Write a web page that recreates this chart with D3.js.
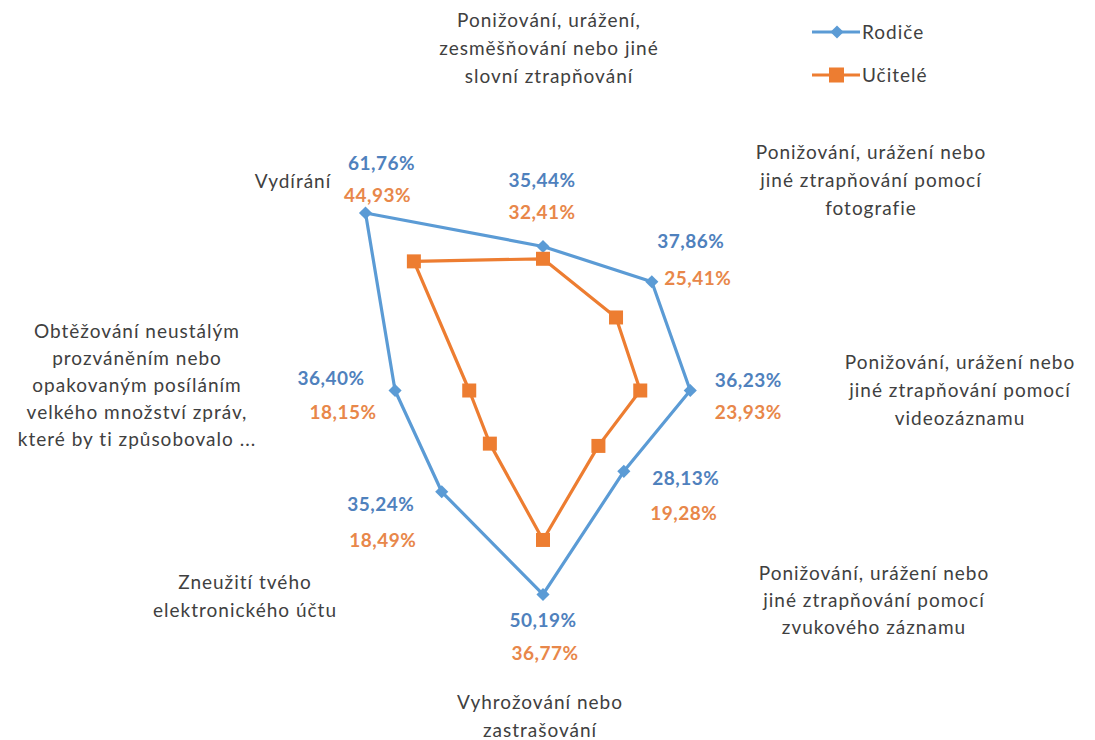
<!DOCTYPE html>
<html>
<head>
<meta charset="utf-8">
<script src="https://cdn.jsdelivr.net/npm/d3@7"></script>
<style>
body{margin:0;background:#fff;}
svg{display:block;font-family:Lato,"Open Sans",sans-serif;}
</style>
</head>
<body>
<svg width="1095" height="740"></svg>
<script>
// data
var categories = [
  ["Ponižování, urážení,","zesměšňování nebo jiné","slovní ztrapňování"],
  ["Ponižování, urážení nebo","jiné ztrapňování  pomocí","fotografie"],
  ["Ponižování, urážení nebo","jiné ztrapňování  pomocí","videozáznamu"],
  ["Ponižování, urážení nebo","jiné ztrapňování  pomocí","zvukového záznamu"],
  ["Vyhrožování nebo","zastrašování"],
  ["Zneužití tvého","elektronického účtu"],
  ["Obtěžování neustálým","prozváněním nebo","opakovaným posíláním","velkého množství zpráv,","které by ti způsobovalo ..."],
  ["Vydírání"]
];
var rodice = [35.44, 37.86, 36.23, 28.13, 50.19, 35.24, 36.40, 61.76];
var ucitele = [32.41, 25.41, 23.93, 19.28, 36.77, 18.49, 18.15, 44.93];
var seriesNames = ["Rodiče", "Učitelé"];

// layout
var cx = 543, cy = 390.5;
var blue = "#5B9BD5", orange = "#ED7D31";
var blueText = "#4F81BD", orangeText = "#E8874A";
// category label anchor (center x, first line center y) and line spacing
var catPos = [[549,20],[871,152],[960,362],[874,573],[540,702],[245,582],[137,331],[293,181]];
var lineH = [28,28,28,27,28,28,27,0];
// value label offsets from the Rodiče point
var blueOff = [[-1,-66],[39,-40],[58,-10],[62,7],[0,26],[-61,13],[-64,-12],[16,-50]];
var orangeOff = [[-1,-34],[46,-3],[58,22],[60,42],[2,59],[-59,49],[-52,22],[12,-18]];

var svg = d3.select("svg");
var r = d3.scaleLinear().domain([0,70]).range([0,284.5]);
var angle = d3.scaleLinear().domain([0, categories.length]).range([0, 2*Math.PI]);

function pt(v,i){
  var a = angle(i);
  return [cx + r(v)*Math.sin(a), cy - r(v)*Math.cos(a)];
}
var fmt = function(v){ return v.toFixed(2).replace(".", ",") + "%"; };

var line = d3.line().curve(d3.curveLinearClosed);

// series lines
svg.append("path")
  .attr("d", line(rodice.map(pt)))
  .attr("fill","none").attr("stroke",blue).attr("stroke-width",3.2).attr("stroke-linejoin","round");
svg.append("path")
  .attr("d", line(ucitele.map(pt)))
  .attr("fill","none").attr("stroke",orange).attr("stroke-width",3.2).attr("stroke-linejoin","round");

// markers
var diamond = d3.symbol().type(d3.symbolDiamond2).size(110);
svg.selectAll(".mr").data(rodice).enter().append("path")
  .attr("d", diamond)
  .attr("transform", function(d,i){ var p = pt(d,i); return "translate("+p[0]+","+p[1]+")"; })
  .attr("fill", blue);
svg.selectAll(".mu").data(ucitele).enter().append("rect")
  .attr("x", function(d,i){ return pt(d,i)[0]-7; })
  .attr("y", function(d,i){ return pt(d,i)[1]-7; })
  .attr("width",14).attr("height",14)
  .attr("fill", orange);

// value labels
svg.selectAll(".lr").data(rodice).enter().append("text")
  .attr("x", function(d,i){ return pt(d,i)[0] + blueOff[i][0]; })
  .attr("y", function(d,i){ return pt(d,i)[1] + blueOff[i][1]; })
  .attr("dy","0.35em").attr("text-anchor","middle")
  .attr("font-size",19).attr("font-weight",700).attr("letter-spacing",0.5).attr("fill",blueText)
  .text(fmt);
svg.selectAll(".lu").data(ucitele).enter().append("text")
  .attr("x", function(d,i){ return pt(rodice[i],i)[0] + orangeOff[i][0]; })
  .attr("y", function(d,i){ return pt(rodice[i],i)[1] + orangeOff[i][1]; })
  .attr("dy","0.35em").attr("text-anchor","middle")
  .attr("font-size",19).attr("font-weight",700).attr("letter-spacing",0.5).attr("fill",orangeText)
  .text(fmt);

// category labels
categories.forEach(function(lines,i){
  var t = svg.append("text")
    .attr("text-anchor","middle").attr("font-size",19).attr("letter-spacing",1).attr("fill","#404040");
  lines.forEach(function(s,j){
    t.append("tspan").attr("x",catPos[i][0]).attr("y",catPos[i][1]+j*lineH[i]).attr("dy","0.35em").text(s);
  });
});

// legend
var legend = svg.append("g").attr("transform","translate(812,32)");
[blue, orange].forEach(function(c,i){
  var g = legend.append("g").attr("transform","translate(0,"+(i*43)+")");
  g.append("line").attr("x1",0).attr("x2",48).attr("stroke",c).attr("stroke-width",3.2);
  if(i===0){
    g.append("path").attr("d",diamond).attr("transform","translate(25,0)").attr("fill",c);
  } else {
    g.append("rect").attr("x",17).attr("y",-7.5).attr("width",15).attr("height",15).attr("fill",c);
  }
  g.append("text").attr("x",50).attr("dy","0.35em").attr("font-size",19).attr("letter-spacing",1).attr("fill","#404040").text(seriesNames[i]);
});
</script>
</body>
</html>
